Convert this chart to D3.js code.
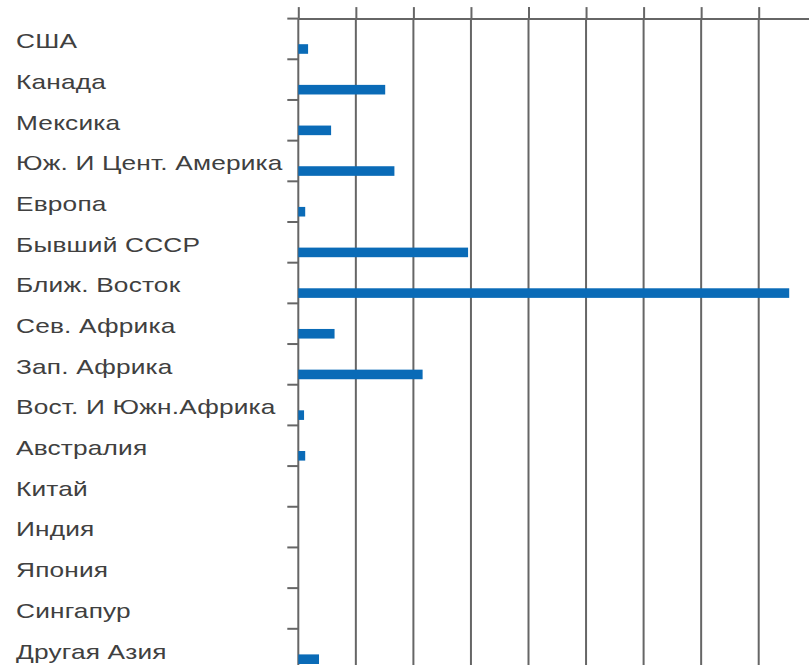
<!DOCTYPE html>
<html>
<head>
<meta charset="utf-8">
<script src="https://d3js.org/d3.v7.min.js"></script>
<style>
  body { margin: 0; background: #fff; }
  svg { display: block; }
</style>
</head>
<body>
<div class="board"></div>
<script>
// regions and their values (one grid step = 1)
var regions = ['США', 'Канада', 'Мексика', 'Юж. И Цент. Америка', 'Европа', 'Бывший СССР',
  'Ближ. Восток', 'Сев. Африка', 'Зап. Африка', 'Вост. И Южн.Африка', 'Австралия',
  'Китай', 'Индия', 'Япония', 'Сингапур', 'Другая Азия'];
var values = [0.17, 1.51, 0.57, 1.67, 0.12, 2.95, 8.53, 0.63, 2.16, 0.10, 0.12, 0, 0, 0, 0, 0.36];
var xTicks = [0, 1, 2, 3, 4, 5, 6, 7, 8, 9];

var width = 809, height = 665;
var topY = 18.6, leftX = 298.3, step = 57.55, band = 40.68;

var svg = d3.select('.board')
  .append('svg')
  .attr('width', width)
  .attr('height', height);

var x = d3.scaleLinear()
  .domain([0, 9])
  .range([leftX, leftX + step * 9]);

var y = d3.scaleBand()
  .domain(regions)
  .range([topY, topY + band * regions.length])
  .padding(0);

var lineColor = '#666';

// vertical grid lines
svg.append('g')
  .selectAll('line')
  .data(xTicks)
  .enter()
  .append('line')
  .attr('x1', function(d) { return x(d); })
  .attr('x2', function(d) { return x(d); })
  .attr('y1', topY)
  .attr('y2', height)
  .style('stroke', lineColor)
  .style('stroke-width', 2);

// top axis, no labels
svg.append('g')
  .attr('transform', 'translate(0,' + topY + ')')
  .call(d3.axisTop(x).tickValues(xTicks).tickSize(11.5).tickSizeOuter(0).tickFormat(''))
  .selectAll('.domain, .tick line')
  .style('stroke', lineColor)
  .style('stroke-width', 2);

// left ticks sit on band boundaries
svg.append('g')
  .selectAll('line')
  .data(regions)
  .enter()
  .append('line')
  .attr('x1', leftX - 11)
  .attr('x2', leftX)
  .attr('y1', function(d) { return y(d); })
  .attr('y2', function(d) { return y(d); })
  .style('stroke', lineColor)
  .style('stroke-width', 2);

// bars
svg.append('g')
  .selectAll('rect')
  .data(values)
  .enter()
  .append('rect')
  .attr('x', x(0))
  .attr('y', function(d, i) { return y(regions[i]) + 25.6; })
  .attr('width', function(d) { return x(d) - x(0); })
  .attr('height', 9.6)
  .style('fill', '#0a6bb7');

// labels (the original is a bit stretched sideways)
svg.append('g')
  .selectAll('text')
  .data(regions)
  .enter()
  .append('text')
  .attr('transform', function(d) { return 'translate(16,' + (y(d) + 29.7) + ') scale(1.25,1)'; })
  .text(function(d) { return d; })
  .style('font-family', '"Liberation Sans", Arial, sans-serif')
  .style('font-size', '21px')
  .style('letter-spacing', '0.15px')
  .style('fill', '#404040');
</script>
</body>
</html>
